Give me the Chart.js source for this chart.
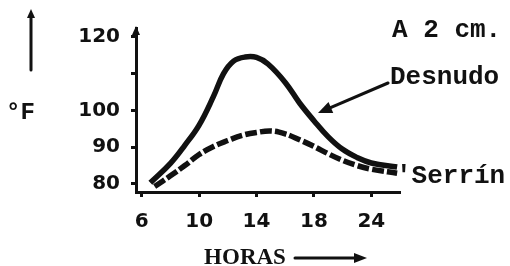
<!DOCTYPE html>
<html>
<head>
<meta charset="utf-8">
<script src="https://cdn.jsdelivr.net/npm/chart.js@4"></script>
<style>
  html, body { margin: 0; padding: 0; background: #fff; }
  #chart { display: block; }
</style>
</head>
<body>
<canvas id="chart" width="510" height="266"></canvas>
<script>
// DATA
var desnudoHours = [6.6, 8, 9, 10, 11, 11.7, 12.4, 13.2, 14, 14.8, 16, 17, 18, 19, 20, 21, 22, 23.8]
var desnudoTemp  = [80.3, 85.6, 90.5, 96, 103.8, 110, 113.4, 114.5, 114.4, 112.6, 107.6, 102, 97.2, 92.8, 89.4, 87.2, 85.7, 84.6]

var serrinHours = [6.9, 8, 9, 10, 11, 12, 13, 14, 15, 16, 17, 18, 19, 20, 21, 22, 23.8]
var serrinTemp  = [79.3, 82.2, 85, 88, 90.2, 91.8, 93.2, 94, 94.4, 93.6, 92, 90.2, 88.2, 86.4, 85, 84, 82.9]

// tick marks as drawn on the original axes
var xTickHours  = [6, 10, 14, 18, 22]
var xTickLabels = ['6', '10', '14', '18', '24']
var yTickValues = [80, 90, 100, 110, 120]
var yTickLabels = ['80', '90', '100', '', '120']

var ink = '#111'

function toPoints(xs, ys) {
    return xs.map(function (x, i) { return { x: x, y: ys[i] } })
}

function arrowHead(ctx, x1, y1, x2, y2, len, half) {
    var a = Math.atan2(y2 - y1, x2 - x1)
    ctx.beginPath()
    ctx.moveTo(x2, y2)
    ctx.lineTo(x2 - len * Math.cos(a) + half * Math.sin(a), y2 - len * Math.sin(a) - half * Math.cos(a))
    ctx.lineTo(x2 - len * Math.cos(a) - half * Math.sin(a), y2 - len * Math.sin(a) + half * Math.cos(a))
    ctx.closePath()
    ctx.fill()
}

function arrow(ctx, x1, y1, x2, y2, len, half) {
    var a = Math.atan2(y2 - y1, x2 - x1)
    ctx.beginPath()
    ctx.moveTo(x1, y1)
    ctx.lineTo(x2 - (len - 1) * Math.cos(a), y2 - (len - 1) * Math.sin(a))
    ctx.stroke()
    arrowHead(ctx, x1, y1, x2, y2, len, half)
}

// labels and arrows of the scanned figure
var annotations = {
    id: 'annotations',
    afterDraw: function (chart) {
        var ctx = chart.ctx
        var area = chart.chartArea
        ctx.save()
        ctx.fillStyle = ink
        ctx.strokeStyle = ink
        ctx.lineWidth = 3
        ctx.lineCap = 'round'

        // arrow tip on top of the y axis
        arrowHead(ctx, area.left, area.top + 10, area.left, area.top - 2, 9, 4)

        // vertical arrow and unit
        arrow(ctx, 31, 70, 31, 9, 9, 4)
        ctx.font = 'bold 24px "Liberation Mono"'
        ctx.textAlign = 'left'
        ctx.textBaseline = 'middle'
        ctx.fillText('°F', 6, 113)

        // axis title
        ctx.font = 'bold 23px "Liberation Serif"'
        ctx.textAlign = 'center'
        ctx.textBaseline = 'alphabetic'
        ctx.fillText('HORAS', 245, 264)
        arrow(ctx, 295, 258, 367, 258, 13, 5)

        // series labels
        ctx.font = 'bold 26px "Liberation Mono"'
        ctx.textAlign = 'left'
        ctx.textBaseline = 'middle'
        ctx.fillText('A 2 cm.', 392, 30)
        ctx.fillText('Desnudo', 390, 77)
        ctx.fillText("'Serrín", 396, 176)
        arrow(ctx, 388, 83, 318, 113, 14, 6)

        ctx.restore()
    }
}

var cnx = document.getElementById('chart')

var tempChart = new Chart(cnx, {
    type: 'line',
    data: {
        datasets: [
            {
                label: 'Desnudo',
                data: toPoints(desnudoHours, desnudoTemp),
                borderColor: ink,
                borderWidth: 5.5,
                pointRadius: 0,
                tension: 0.4,
                fill: false
            },
            {
                label: 'Serrín',
                data: toPoints(serrinHours, serrinTemp),
                borderColor: ink,
                borderWidth: 5.5,
                borderDash: [12, 3],
                pointRadius: 0,
                tension: 0.4,
                fill: false
            }
        ]
    },
    options: {
        responsive: false,
        animation: false,
        devicePixelRatio: 1,
        layout: {
            padding: { left: 0, top: 28, right: 110, bottom: 0 }
        },
        plugins: {
            legend: { display: false },
            title: { display: false },
            tooltip: { enabled: false }
        },
        scales: {
            x: {
                type: 'linear',
                min: 5.6,
                max: 24,
                afterBuildTicks: function (axis) {
                    axis.ticks = xTickHours.map(function (v) { return { value: v } })
                },
                afterFit: function (axis) { axis.height = 74 },
                border: { display: true, color: ink, width: 3 },
                grid: { drawOnChartArea: false, drawTicks: true, tickLength: 5, tickWidth: 3, tickColor: ink },
                ticks: {
                    autoSkip: false,
                    maxRotation: 0,
                    padding: 13,
                    color: ink,
                    font: { family: 'DejaVu Sans', weight: 'bold', size: 20 },
                    callback: function (value, index) { return xTickLabels[index] }
                }
            },
            y: {
                type: 'linear',
                min: 77.8,
                max: 122.4,
                afterBuildTicks: function (axis) {
                    axis.ticks = yTickValues.map(function (v) { return { value: v } })
                },
                afterFit: function (axis) { axis.width = 136 },
                border: { display: true, color: ink, width: 3 },
                grid: { drawOnChartArea: false, drawTicks: true, tickLength: 5, tickWidth: 3, tickColor: ink },
                ticks: {
                    autoSkip: false,
                    padding: 11,
                    color: ink,
                    font: { family: 'DejaVu Sans', weight: 'bold', size: 20 },
                    callback: function (value, index) { return yTickLabels[index] }
                }
            }
        }
    },
    plugins: [annotations]
})
</script>
</body>
</html>
